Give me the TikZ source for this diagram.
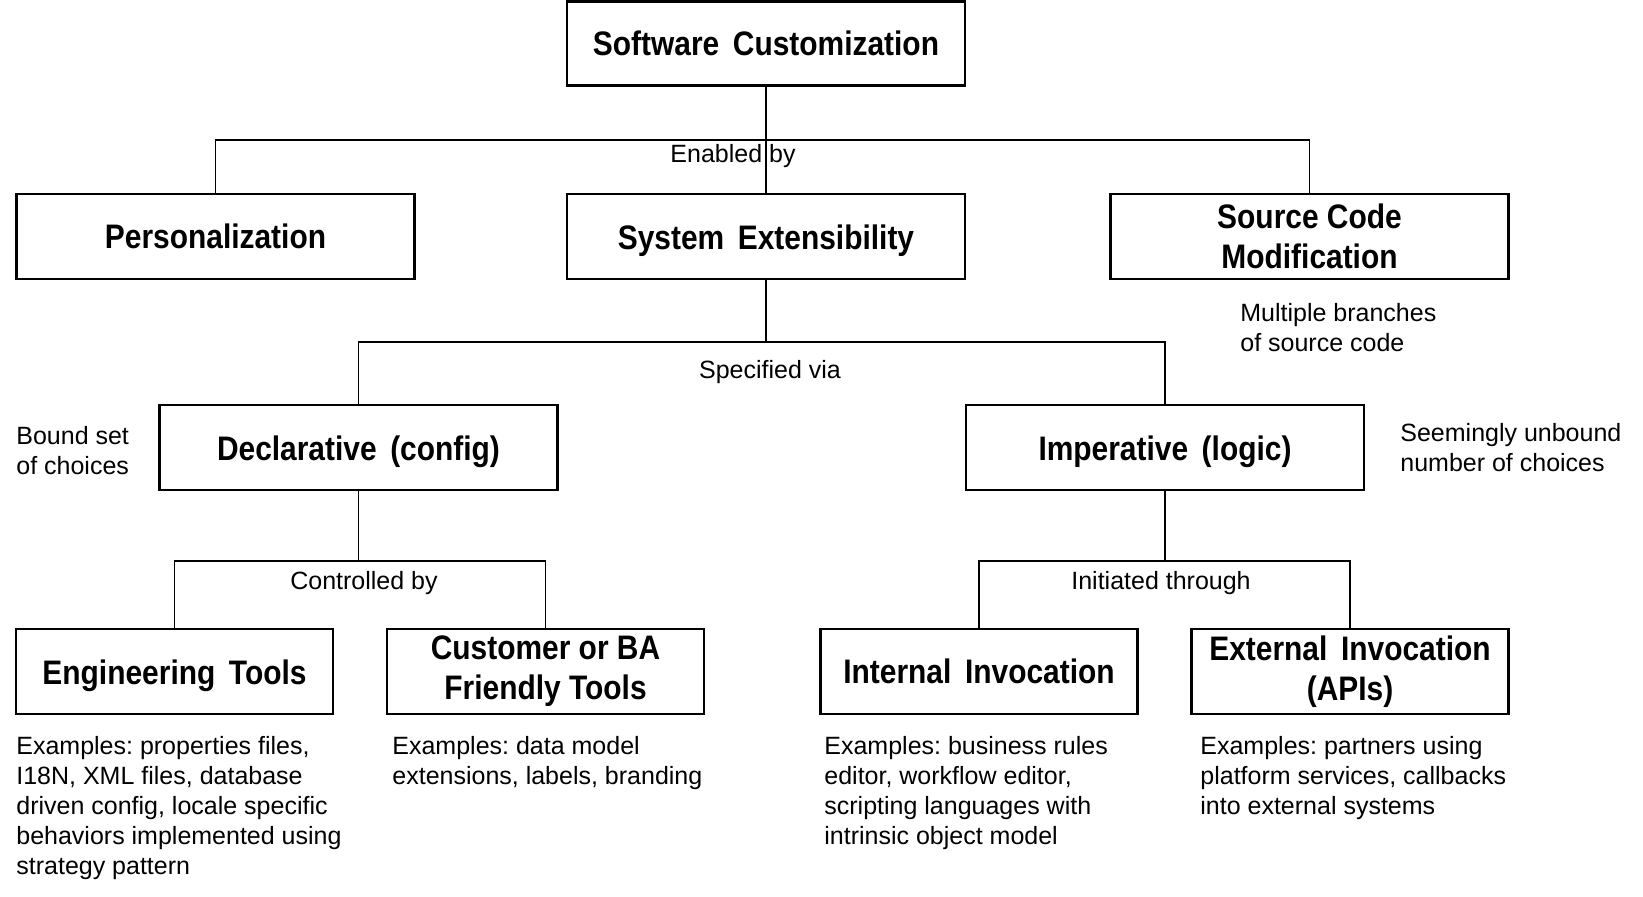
\documentclass[tikz,border=0pt]{standalone}
\usepackage{fontspec}
\setmainfont{Liberation Sans}
\newfontfamily\boxfont[FakeStretch=0.88]{Liberation Sans}
\frenchspacing
\usetikzlibrary{positioning}
\tikzstyle{category} = [rectangle, draw, line width=1.4pt, align=center, minimum width=199pt, minimum height=42.5pt, inner sep=2pt, font=\boxfont\fontsize{17}{20}\selectfont\bfseries]
\tikzstyle{tool} = [category, minimum width=158.5pt]
\tikzstyle{note} = [align=left, inner sep=0pt, font=\fontsize{12.5}{15}\selectfont]
\tikzstyle{link} = [line width=0.8pt]
\newcommand{\wsp}{\hspace{0.4em}}
\newcommand{\dropped}[1]{\raisebox{-2pt}[\height][\depth]{#1}}

\begin{document}
\begin{tikzpicture}[x=0.5pt, y=-0.5pt]
        \useasboundingbox (0, 0) rectangle (1643, 897);

        \node[category, minimum height=41.75pt] at (766, 43.5) (SoftwareCustomization) {Software\wsp Customization};

        \node[category] at (215.5, 236.5) (Personalization) {Personalization};
        \node[category] at (766, 236.5) (SystemExtensibility) {\dropped{System\wsp Extensibility}};
        \node[category] at (1309.5, 236.5) (SourceCodeModification) {Source Code\\Modification};
        \node[note] at (733, 156) (EnabledBy) {Enabled by};
        \node[note, anchor=west] at (1240, 328) (MultipleBranches) {Multiple branches\\of source code};

        \node[category] at (358.5, 447.5) (Declarative) {\dropped{Declarative\wsp (config)}};
        \node[category] at (1165, 447.5) (Imperative) {\dropped{Imperative\wsp (logic)}};
        \node[note] at (770, 372) (SpecifiedVia) {Specified via};
        \node[note, anchor=west] at (16, 451) (BoundSet) {Bound set\\of choices};
        \node[note, anchor=west] at (1400, 448) (Unbound) {Seemingly unbound\\number of choices};

        \node[tool] at (174.5, 671.5) (EngineeringTools) {\dropped{Engineering\wsp Tools}};
        \node[tool] at (545.5, 671.5) (FriendlyTools) {Customer or BA\\Friendly Tools};
        \node[tool] at (979, 671.5) (InternalInvocation) {Internal\wsp Invocation};
        \node[tool] at (1350, 671.5) (ExternalInvocation) {External\wsp Invocation\\(APIs)};
        \node[note] at (364, 583) (ControlledBy) {Controlled by};
        \node[note] at (1161, 583) (InitiatedThrough) {Initiated through};

        \node[note, anchor=west] at (16, 808) (EngineeringExamples) {Examples: properties files,\\I18N, XML files, database\\driven config, locale specific\\behaviors implemented using\\strategy pattern};
        \node[note, anchor=west] at (392, 763) (FriendlyExamples) {Examples: data model\\extensions, labels, branding};
        \node[note, anchor=west] at (824, 793) (InternalExamples) {Examples: business rules\\editor, workflow editor,\\scripting languages with\\intrinsic object model};
        \node[note, anchor=west] at (1200, 778) (ExternalExamples) {Examples: partners using\\platform services, callbacks\\into external systems};

        \coordinate (Enabled) at (766, 140);
        \coordinate (Specified) at (766, 342);
        \coordinate (Controlled) at (358.5, 561);
        \coordinate (Initiated) at (1165, 561);

        \draw[link] (SoftwareCustomization) -- (SystemExtensibility);
        \draw[link] (Personalization.north) |- (Enabled) -| (SourceCodeModification.north);
        \draw[link] (SystemExtensibility) -- (Specified);
        \draw[link] (Declarative.north) |- (Specified) -| (Imperative.north);
        \draw[link] (Declarative) -- (Controlled);
        \draw[link] (EngineeringTools.north) |- (Controlled) -| (FriendlyTools.north);
        \draw[link] (Imperative) -- (Initiated);
        \draw[link] (InternalInvocation.north) |- (Initiated) -| (ExternalInvocation.north);
    \end{tikzpicture}
\end{document}
